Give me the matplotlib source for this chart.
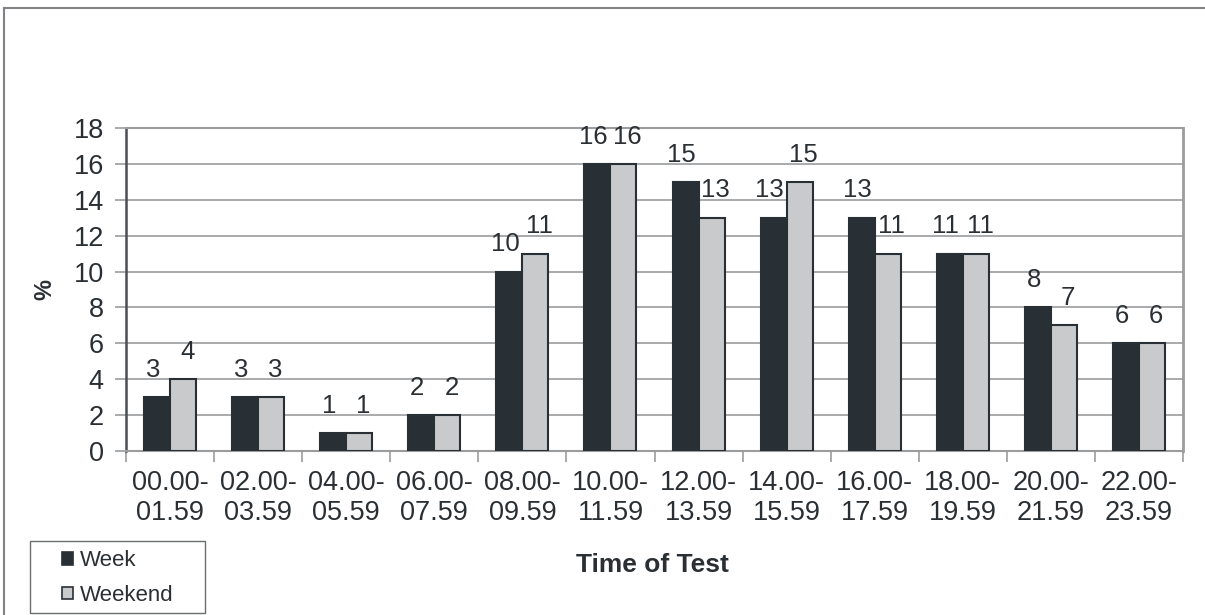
import matplotlib
matplotlib.use("Agg")
import matplotlib.pyplot as plt
import numpy as np
from matplotlib.patches import Patch, Rectangle
from matplotlib.lines import Line2D

categories = ["00.00-\n01.59", "02.00-\n03.59", "04.00-\n05.59", "06.00-\n07.59",
              "08.00-\n09.59", "10.00-\n11.59", "12.00-\n13.59", "14.00-\n15.59",
              "16.00-\n17.59", "18.00-\n19.59", "20.00-\n21.59", "22.00-\n23.59"]
week = [3, 3, 1, 2, 10, 16, 15, 13, 13, 11, 8, 6]
weekend = [4, 3, 1, 2, 11, 16, 13, 15, 11, 11, 7, 6]
yticks = [0, 2, 4, 6, 8, 10, 12, 14, 16, 18]

plt.rcParams['font.family'] = ['Liberation Sans', 'DejaVu Sans']
TXT = '#2a2f33'
DARK = '#293035'
LIGHT = '#c8cacb'
GRID = '#9a9c9e'

W, H = 1205, 615
fig = plt.figure(figsize=(W / 100, H / 100), dpi=100)
ax = fig.add_axes([126 / W, (H - 451) / H, (1183 - 126) / W, (451 - 128) / H])

x = np.arange(len(categories))
bw = 0.295
ax.bar(x - bw / 2, week, bw, color=DARK, edgecolor=DARK, linewidth=1.5, zorder=3)
ax.bar(x + bw / 2, weekend, bw, color=LIGHT, edgecolor=DARK, linewidth=1.5, zorder=3)
for xi, v in zip(x - bw / 2, week):
    ax.annotate(str(v), (xi, v), xytext=(-3, 11), textcoords='offset points',
                ha='center', va='bottom', fontsize=18.5, color=TXT)
for xi, v in zip(x + bw / 2, weekend):
    ax.annotate(str(v), (xi, v), xytext=(3, 11), textcoords='offset points',
                ha='center', va='bottom', fontsize=18.5, color=TXT)

ax.set_xlim(-0.5, len(categories) - 0.5)
ax.set_ylim(0, 18)
ax.set_yticks(yticks)
ax.set_yticklabels([str(v) for v in yticks], fontsize=19.5, color=TXT)
ax.yaxis.grid(True, color=GRID, linewidth=1.2, zorder=0)
ax.set_axisbelow(True)

ax.set_xticks(x)
ax.set_xticklabels(categories, fontsize=19.5, color=TXT, linespacing=1.2)
ax.set_xticks(np.arange(len(categories) + 1) - 0.5, minor=True)
ax.tick_params(axis='x', which='major', length=0, pad=14)
ax.tick_params(axis='x', which='minor', length=8, width=1.2, color=GRID, direction='out')
ax.tick_params(axis='y', length=8, width=1.2, color=GRID, direction='out', pad=8)

ax.spines['left'].set_color('#4a4f52')
ax.spines['left'].set_linewidth(1.8)
ax.spines['bottom'].set_color(GRID)
ax.spines['bottom'].set_linewidth(1.5)
ax.spines['top'].set_color(GRID)
ax.spines['top'].set_linewidth(1.5)
ax.spines['right'].set_color(GRID)
ax.spines['right'].set_linewidth(2)

fig.text(45 / W, 1 - 290 / H, '%', rotation=90, fontsize=17, fontweight='bold',
         color=TXT, ha='center', va='center')
fig.text(652 / W, 1 - 565 / H, 'Time of Test', fontsize=19, fontweight='bold',
         color=TXT, ha='center', va='center')

# legend box
fig.add_artist(Rectangle((30 / W, 2 / H), 175 / W, 72 / H, transform=fig.transFigure,
                         facecolor='white', edgecolor='#6a6d70', linewidth=1.0))
handles = [Patch(facecolor=DARK, edgecolor=DARK, linewidth=1.2),
           Patch(facecolor=LIGHT, edgecolor=DARK, linewidth=1.2)]
leg = fig.legend(handles, ['Week', 'Weekend'], loc='center left',
                 bbox_to_anchor=(62 / W, (H - 578) / H), fontsize=16,
                 handlelength=0.5, handleheight=0.5, handletextpad=0.3,
                 labelspacing=0.62, borderpad=0, borderaxespad=0,
                 frameon=False, labelcolor=TXT)

# figure border (top and left)
fig.add_artist(Line2D([4 / W, 1], [1 - 8 / H, 1 - 8 / H], color='#808285', linewidth=1.5,
                      transform=fig.transFigure))
fig.add_artist(Line2D([4 / W, 4 / W], [0, 1 - 8 / H], color='#808285', linewidth=1.5,
                      transform=fig.transFigure))

fig.savefig('out.png', dpi=100)
